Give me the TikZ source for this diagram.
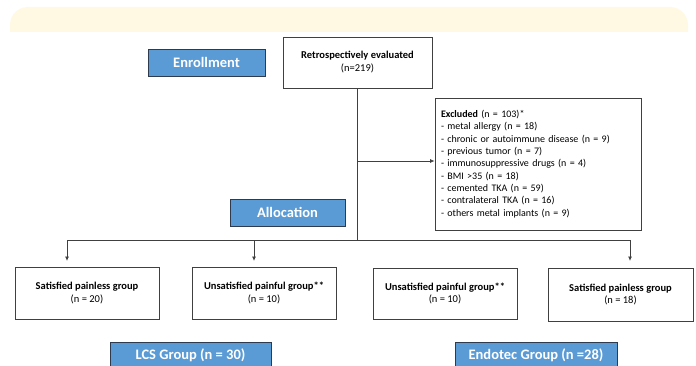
\documentclass[tikz,border=0pt]{standalone}
\usepackage{fontspec}
\setmainfont{Carlito}
\usetikzlibrary{positioning,arrows.meta,calc}
\definecolor{bandyellow}{HTML}{FFF9E4}
\definecolor{stageblue}{HTML}{5B9BD5}
\definecolor{stageedge}{HTML}{2E3B4E}
\definecolor{boxedge}{HTML}{404040}

\begin{document}
\begin{tikzpicture}[x=1pt,y=-1pt,>={Latex[length=4.5pt,width=4pt]}]
\tikzstyle{stage} = [draw=stageedge,fill=stageblue,line width=0.9pt,inner sep=0,text=white,font=\fontsize{14.5}{16}\selectfont\bfseries]
\tikzstyle{group} = [draw=boxedge,fill=white,line width=0.8pt,inner sep=0,align=center,font=\fontsize{10.5}{12.5}\selectfont]
\tikzstyle{link} = [draw=boxedge,line width=0.8pt]
\clip (0,0) rectangle (696,366);
\fill[white] (0,0) rectangle (696,366);
% header band
\begin{scope}
\clip (0,0) rectangle (696,32);
\fill[bandyellow,rounded corners=18pt] (10,7) rectangle (688,70);
\end{scope}
% stages
\node[stage,minimum width=117pt,minimum height=27pt] (enroll) at (206.5,62.5) {Enrollment};
\node[stage,minimum width=115pt,minimum height=27pt] (alloc) at (287.5,212.5) {Allocation};
\node[stage,minimum width=161pt,minimum height=27pt] (lcs) at (190.5,355.5) {LCS Group (n = 30)};
\node[stage,minimum width=162pt,minimum height=27pt] (endo) at (536,355.5) {Endotec Group (n =28)};
% boxes
\node[group,minimum width=149pt,minimum height=51pt,font=\fontsize{10.5}{13}\selectfont] (retro) at (357.5,62.5) {\textbf{Retrospectively evaluated}\\(n=219)};
\node[group,minimum width=206pt,minimum height=132pt,inner xsep=6pt,text width=194pt,align=left,font=\fontsize{10}{12.3}\selectfont] (excl) at (538,164)
  {\textbf{Excluded} (n = 103)*\\
   - metal allergy (n = 18)\\
   - chronic or autoimmune disease (n = 9)\\
   - previous tumor (n = 7)\\
   - immunosuppressive drugs (n = 4)\\
   - BMI >35 (n = 18)\\
   - cemented TKA (n = 59)\\
   - contralateral TKA (n = 16)\\
   - others metal implants (n = 9)};
\node[group,minimum width=144pt,minimum height=52pt] (sat1) at (87,293) {\textbf{Satisfied painless group}\\(n = 20)};
\node[group,minimum width=144pt,minimum height=52pt] (unsat1) at (264,293) {\textbf{Unsatisfied painful group**}\\(n = 10)};
\node[group,minimum width=144pt,minimum height=51pt] (unsat2) at (445,293.5) {\textbf{Unsatisfied painful group**}\\(n = 10)};
\node[group,minimum width=145pt,minimum height=53pt] (sat2) at (620.5,294.5) {\textbf{Satisfied painless group}\\(n = 18)};
% connectors
\coordinate (split) at (retro.south |- 0,240);
\coordinate (tip1) at (67,261);
\coordinate (tip2) at (254,261);
\coordinate (tip4) at (630,261);
\draw[link] (retro.south) -- (split);
\draw[link,->] (retro.south |- 0,161) -- (excl.west |- 0,161);
\draw[link,->] (split) -| (tip1);
\draw[link,->] (split) -| (tip2);
\draw[link,->] (split) -| (tip4);
\end{tikzpicture}
\end{document}
